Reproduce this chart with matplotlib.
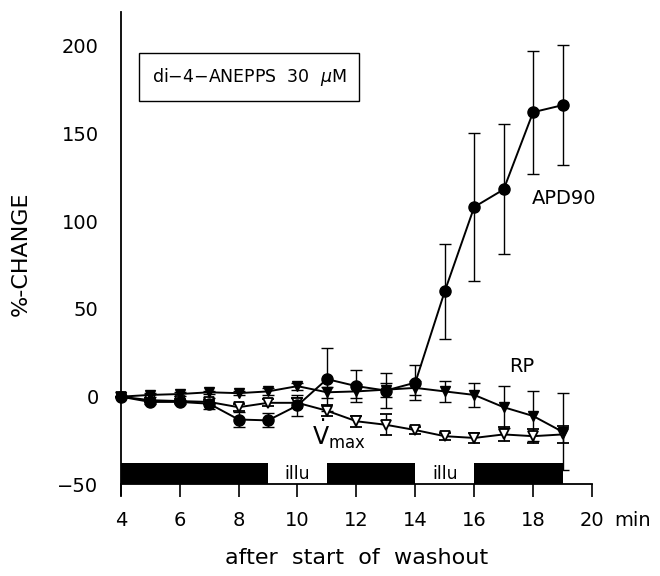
import matplotlib
matplotlib.use("Agg")
import matplotlib.pyplot as plt

# minutes after start of washout
t = [4, 5, 6, 7, 8, 9, 10, 11, 12, 13, 14, 15, 16, 17, 18, 19]

apd90 = [0, -3, -3, -4, -13, -13.5, -5, 10, 6, 3.5, 8, 60, 108, 118, 162, 166]
apd90_err = [0, 1, 1, 3, 4, 4, 6, 18, 9, 10, 10, 27, 42, 37, 35, 34]

rp = [0, 1, 1.5, 2.5, 2, 3, 6, 2.5, 3, 4, 5, 3, 1, -6, -11, -20]
rp_err = [0, 1, 1, 1, 1, 2, 2, 3, 4, 4, 4, 6, 7, 12, 14, 22]

vmax = [0, -2, -2.5, -3, -6, -3.5, -3.5, -8, -14, -16, -19, -22.5, -23.5, -21.5, -22.5, -21.5]
vmax_err = [0, 1, 1, 1, 2, 2, 3, 3, 3, 6, 2, 2, 3, 4, 4, 5]

# dark periods (black bars) and illumination periods
dark_start = [4, 11, 16]
dark_end = [9, 14, 19]
illu_pos = [10, 15]

xticks = [4, 6, 8, 10, 12, 14, 16, 18, 20]
yticks = [-50, 0, 50, 100, 150, 200]

plt.rcParams['font.family'] = ['DejaVu Sans']
fig = plt.figure(figsize=(6.6, 5.76), dpi=100)
ax = fig.add_axes([0.183, 0.1406, 0.897 - 0.183, 0.979 - 0.1406])

ax.set_xlim(4, 20)
ax.set_ylim(-56, 219)

# bars along the bottom
for s, e in zip(dark_start, dark_end):
    ax.bar(s, 12, width=e - s, bottom=-50, align='edge', color='black', zorder=2)
for p in illu_pos:
    ax.text(p, -44, 'illu', ha='center', va='center', fontsize=12.5)

kw = dict(color='black', lw=1.4, capsize=4, elinewidth=1, capthick=1, clip_on=False, zorder=3)
ax.errorbar(t, vmax, yerr=vmax_err, marker='v', ms=7, mfc='white', mec='black', mew=1.3, **kw)
ax.errorbar(t, rp, yerr=rp_err, marker='v', ms=7, mfc='black', mec='black', **kw)
ax.errorbar(t, apd90, yerr=apd90_err, marker='o', ms=8, mfc='black', mec='black', **kw)

ax.text(17.95, 113, 'APD90', fontsize=14, va='center', ha='left')
ax.text(17.2, 17, 'RP', fontsize=14, va='center', ha='left')
ax.text(10.5, -21, r'$\dot{\mathsf{V}}_{\mathsf{max}}$', fontsize=17, va='center', ha='left')

ax.text(8.35, 182, r'di$-$4$-$ANEPPS  30  $\mu$M', fontsize=12.5, ha='center', va='center',
        bbox=dict(boxstyle='square,pad=0.75', fc='white', ec='black', lw=1))

ax.spines['top'].set_visible(False)
ax.spines['right'].set_visible(False)
ax.spines['bottom'].set_position(('data', -50))
ax.spines['left'].set_linewidth(1.3)
ax.spines['bottom'].set_linewidth(1.3)

ax.set_xticks(xticks)
ax.set_yticks(yticks)
ax.tick_params(axis='x', direction='out', length=9, width=1.2, labelsize=14, pad=10)
ax.tick_params(axis='y', length=0, labelsize=14, pad=16)
ax.annotate('min', xy=(20, -50), xytext=(16, -26), textcoords='offset points',
            ha='left', va='center', fontsize=14, annotation_clip=False)

ax.set_ylabel('%-CHANGE', fontsize=16, labelpad=19)
ax.set_xlabel('after  start  of  washout', fontsize=16, labelpad=13)

fig.savefig('out.png', dpi=100)
